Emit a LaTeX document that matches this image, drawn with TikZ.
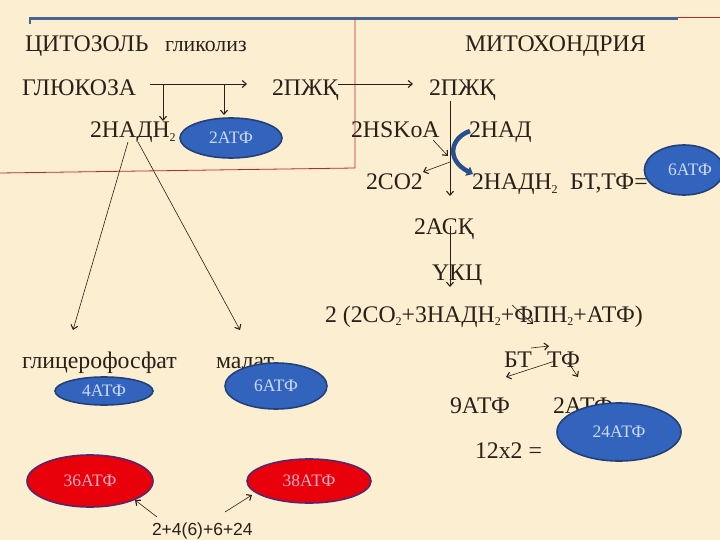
\documentclass[tikz,border=0pt]{standalone}
\usepackage{fontspec}
\setmainfont{Liberation Serif}
\newfontfamily\arialf{Liberation Sans}
\usetikzlibrary{shapes.geometric,arrows.meta}
\definecolor{bgc}{RGB}{252,238,208}
\definecolor{ink}{RGB}{40,32,25}
\definecolor{topblue}{RGB}{70,100,150}
\definecolor{redline}{RGB}{190,40,40}
\definecolor{ellblue}{RGB}{50,100,190}
\definecolor{ellblueb}{RGB}{35,65,120}
\definecolor{elltxt}{RGB}{205,218,242}
\definecolor{ellred}{RGB}{232,0,10}
\definecolor{ellredb}{RGB}{85,40,110}
\definecolor{ellredt}{RGB}{248,175,195}
\definecolor{curveblue}{RGB}{40,80,145}
\newcommand{\lsub}[1]{\raisebox{-0.35ex}{\fontsize{12}{12}\selectfont #1}}
\tikzset{
  txt/.style={anchor=base west,inner sep=0pt,outer sep=0pt,text=ink,font=\fontsize{23.8}{28}\selectfont},
  smalltxt/.style={txt,font=\fontsize{21.8}{26}\selectfont},
  ellb/.style={ellipse,draw=ellblueb,line width=1.6pt,fill=ellblue,inner sep=0pt,text=elltxt,font=\fontsize{17.5}{20}\selectfont},
  ellr/.style={ellipse,draw=ellredb,line width=1.6pt,fill=ellred,inner sep=0pt,text=ellredt,font=\fontsize{17.5}{20}\selectfont},
  arr/.style={draw=ink,line width=0.6pt,-{Straight Barb[length=4pt,width=7pt,line width=1.1pt]}},
  ln/.style={draw=ink,line width=0.6pt}
}
\begin{document}
\begin{tikzpicture}[x=1pt,y=-1pt]
\fill[bgc] (0,0) rectangle (720,540);
\useasboundingbox (0,0) rectangle (720,540);
% frame lines
\draw[redline,line width=0.8pt] (355,17) -- (720,17);
\draw[topblue,line width=3pt] (29,19) -- (678,19);
\draw[topblue,line width=2pt] (30,19) -- (30,24);
\draw[redline,line width=0.8pt] (355,17) -- (355,168) -- (0,173);
% texts
\node[txt] (cyt) at (25,52) {ЦИТОЗОЛЬ};
\node[smalltxt] (gly) at (165,52) {гликолиз};
\node[txt] (mito) at (465,52) {МИТОХОНДРИЯ};
\node[txt] (glu) at (22,96) {ГЛЮКОЗА};
\node[txt] (pjk1) at (272,96) {2ПЖҚ};
\node[txt] (pjk2) at (429,96) {2ПЖҚ};
\node[txt] (nadh1) at (90,138) {2НАДН\lsub{2}};
\node[txt] (hsk) at (351,138) {2HSKoA};
\node[txt] (nad) at (469,138) {2НАД};
\node[txt] (co2) at (366,190) {2СО2};
\node[txt] (nadh2) at (472,190) {2НАДН\lsub{2}};
\node[txt] (bttf1) at (570,190) {БТ,ТФ=};
\node[txt] (ask) at (414,235) {2АСҚ};
\node[txt] (ukc) at (432,280) {ҮКЦ};
\node[txt] (sum) at (325,322) {2 (2СО\lsub{2}+3НАДН\lsub{2}+ФПН\lsub{2}+АТФ)};
\node[txt] (bt) at (504,367) {БТ};
\node[txt] (tf) at (547,367) {ТФ};
\node[txt] (a9) at (450,413) {9АТФ};
\node[txt] (a2) at (553,413) {2АТФ};
\node[txt] (mul) at (475,458) {12x2 =};
\node[txt] (glyc) at (22,368) {глицерофосфат};
\node[txt] (mal) at (216,368) {малат};
\node[txt,font=\arialf\fontsize{17.5}{20}\selectfont] (tot) at (152,535) {2+4(6)+6+24};
% connector points
\coordinate (g1) at (150,84); \coordinate (g2) at (247,84);
\coordinate (b1) at (163,84); \coordinate (b1e) at (163,121);
\coordinate (b2) at (224,84); \coordinate (b2e) at (224,115);
\coordinate (p1) at (338,84); \coordinate (p2) at (413,84);
\coordinate (v1) at (450,101); \coordinate (v1e) at (450,196);
\coordinate (h1) at (433,140); \coordinate (h1e) at (448,156);
\coordinate (c1) at (450,162); \coordinate (c1e) at (423,172);
\coordinate (cv1) at (470,131); \coordinate (cv2) at (473,174);
\coordinate (v2) at (450,226); \coordinate (v2e) at (450,287);
\coordinate (f1) at (512,305); \coordinate (f1e) at (533,324);
\coordinate (r1) at (531,348); \coordinate (r1e) at (549,346);
\coordinate (t0) at (555,361); \coordinate (t1e) at (506,377);
\coordinate (t2) at (568,362); \coordinate (t2e) at (578,377);
\coordinate (n1) at (128,142); \coordinate (n1e) at (73,330);
\coordinate (n2) at (138,142); \coordinate (n2e) at (240,330);
\coordinate (s1) at (157,517); \coordinate (s1e) at (135,500);
\coordinate (s2) at (225,512); \coordinate (s2e) at (252,495);
% connectors
\draw[arr] (g1) -- (g2);
\draw[arr] (b1) -- (b1e);
\draw[arr] (b2) -- (b2e);
\draw[arr] (p1) -- (p2);
\draw[arr] (v1) -- (v1e);
\draw[arr] (h1) -- (h1e);
\draw[arr] (c1) -- (c1e);
\draw[curveblue,line width=4.5pt,-{Triangle[length=6pt,width=10pt]}] (cv1) .. controls (450,138) and (446,160) .. (cv2);
\draw[arr] (v2) -- (v2e);
\draw[arr] (f1) -- (f1e);
\draw[arr] (r1) -- (r1e);
\draw[arr] (t0) -- (t1e);
\draw[arr] (t2) -- (t2e);
\draw[arr] (n1) -- (n1e);
\draw[arr] (n2) -- (n2e);
\draw[arr] (s1) -- (s1e);
\draw[arr] (s2) -- (s2e);
% ellipses
\node[ellb,minimum width=102pt,minimum height=40pt] (e2) at (231,138) {2АТФ};
\node[ellb,minimum width=78pt,minimum height=50pt] (e6a) at (684,170) {\hspace*{12pt}6АТФ};
\node[ellb,minimum width=98pt,minimum height=28pt] (e4) at (104,391) {4АТФ};
\node[ellb,minimum width=102pt,minimum height=46pt] (e6b) at (276,386) {6АТФ};
\node[ellb,minimum width=124pt,minimum height=58pt] (e24) at (619,432) {24АТФ};
\node[ellr,minimum width=126pt,minimum height=52pt] (e36) at (90,481) {36АТФ};
\node[ellr,minimum width=124pt,minimum height=44pt] (e38) at (309,481) {38АТФ};
\end{tikzpicture}
\end{document}
